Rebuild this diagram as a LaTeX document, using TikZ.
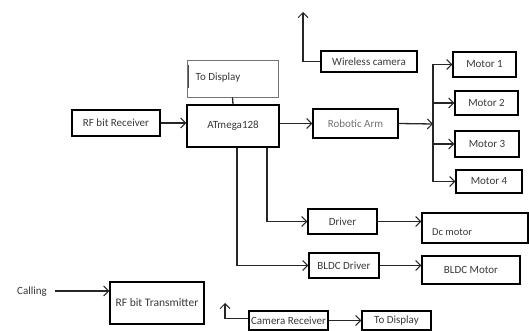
\documentclass[tikz,border=0pt]{standalone}
\usepackage{fontspec}
\setmainfont{Carlito}
\usetikzlibrary{arrows.meta}
\begin{document}
\begin{tikzpicture}[x=1pt,y=-1pt,
  box/.style={draw=black,line width=1.3pt,rectangle,inner sep=0pt,
    font=\fontsize{11}{12}\selectfont,text=black!78},
  conn/.style={line width=1.3pt,draw=black!85},
  arr/.style={conn,-{Straight Barb[length=5pt,width=10pt,line width=1pt]}}]
\useasboundingbox (0,0) rectangle (529,331);
% nodes
\node[box,draw=black!55,line width=0.6pt,minimum width=91pt,minimum height=37pt] (td1) at (232.5,78.5) {};
\node[font=\fontsize{11}{12}\selectfont,text=black!78,inner sep=0pt] (td1t) at (218,78) {To Display};
\node[box,minimum width=92pt,minimum height=42pt] (atm) at (233,126) {ATmega128};
\node[box,minimum width=88pt,minimum height=26pt] (rfrx) at (116,123) {RF bit Receiver};
\node[box,minimum width=85pt,minimum height=29pt,font=\fontsize{11}{12}\selectfont,text=black!55] (arm) at (355.5,123.5) {Robotic Arm};
\node[box,minimum width=96pt,minimum height=21pt] (wcam) at (369,61.5) {Wireless camera};
\node[box,minimum width=63pt,minimum height=25pt] (m1) at (484.5,64.5) {Motor 1};
\node[box,minimum width=63pt,minimum height=24pt] (m2) at (486.5,103) {Motor 2};
\node[box,minimum width=64pt,minimum height=26pt] (m3) at (487,144) {Motor 3};
\node[box,minimum width=66pt,minimum height=23pt] (m4) at (489,181.5) {Motor 4};
\node[box,minimum width=69pt,minimum height=25pt] (drv) at (342.5,221.5) {Driver};
\node[box,minimum width=106pt,minimum height=30pt] (dc) at (475,228) {};
\node[font=\fontsize{10.5}{11}\selectfont,text=black!78,inner sep=0pt,anchor=west] (dct) at (432,232) {Dc motor};
\node[box,minimum width=70pt,minimum height=25pt] (bdrv) at (344,265.5) {BLDC Driver};
\node[box,minimum width=98pt,minimum height=28pt] (bmot) at (471,270) {BLDC Motor};
\node[box,minimum width=79pt,minimum height=19pt] (crx) at (288.5,320.5) {Camera Receiver};
\node[box,minimum width=69pt,minimum height=19pt] (td2) at (396.5,320.5) {To Display};
\node[box,minimum width=94pt,minimum height=42pt,font=\fontsize{11.5}{12}\selectfont] (rftx) at (157,303) {RF bit Transmitter};
\node[font=\fontsize{11}{12}\selectfont,text=black!78,inner sep=0pt] (call) at (32,292) {Calling};
% coordinates
\coordinate (bus) at (433,124);
\coordinate (wup) at (303,12);
\coordinate (cup) at (225,303);
% dark left mark inside the top To Display box
\draw[line width=1.2pt,black!70] ([xshift=2pt,yshift=-5pt]td1.north west) -- ([xshift=2pt,yshift=9pt]td1.south west);
% connectors
\draw[arr] (rfrx.east) -- (rfrx.east -| atm.west);
\draw[conn] (td1.south) -- (atm.north);
\draw[arr] (atm.east |- arm.west) -- (arm.west);
\draw[arr] (arm.east) -- (bus);
\draw[conn] (bus |- m1.west) -- (bus |- m4.west);
\draw[arr] (bus |- m1.west) -- (m1.west);
\draw[arr] (bus |- m2.west) -- (m2.west);
\draw[arr] (bus |- m3.west) -- (m3.west);
\draw[arr] (bus |- m4.west) -- (m4.west);
\draw[arr] (wcam.west) -| (wup);
\draw[arr] ([xshift=34pt]atm.south) |- (drv.west);
\draw[arr] ([xshift=4pt]atm.south) |- (bdrv.west);
\draw[arr] (drv.east) -- (drv.east -| dc.west);
\draw[arr] (bdrv.east) -- (bdrv.east -| bmot.west);
\draw[arr] (crx.east) -- (td2.west);
\draw[arr] ([yshift=2pt]crx.west) -| (cup);
\draw[arr] ([xshift=8pt,yshift=1pt]call.east) -- ([yshift=1pt]call.east -| rftx.west);
\end{tikzpicture}
\end{document}
